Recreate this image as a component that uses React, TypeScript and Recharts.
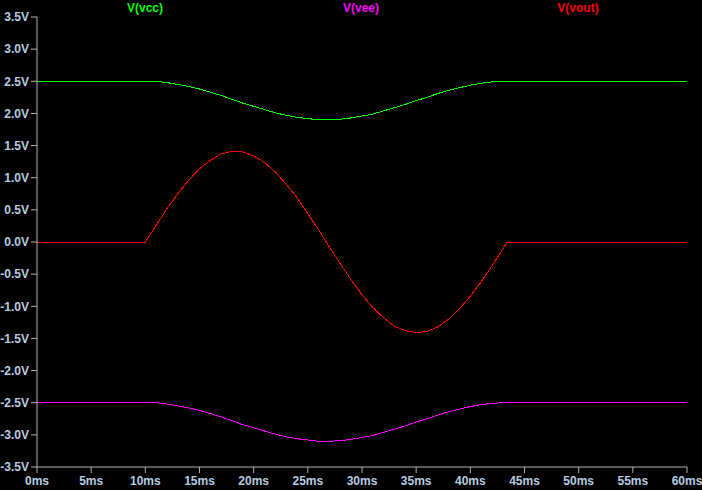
import { LineChart, Line, XAxis, YAxis } from "recharts";

// time in ms
const time = [
  0, 5, 10, 11, 12, 13, 14, 15, 16, 17, 18, 19, 20, 21, 22, 23, 24, 25, 26,
  27, 28, 29, 30, 31, 32, 33, 34, 35, 36, 37, 38, 39, 40, 41, 42, 43, 43.4,
  45, 50, 55, 60,
];
const vcc = [
  2.5, 2.5, 2.5, 2.5, 2.48, 2.45, 2.42, 2.38, 2.33, 2.28, 2.22, 2.16, 2.11,
  2.06, 2.01, 1.97, 1.94, 1.92, 1.9, 1.9, 1.91, 1.93, 1.96, 1.99, 2.04, 2.09,
  2.14, 2.2, 2.25, 2.31, 2.36, 2.4, 2.44, 2.47, 2.49, 2.5, 2.5, 2.5, 2.5, 2.5,
  2.5,
];
const vee = [
  -2.5, -2.5, -2.5, -2.5, -2.52, -2.55, -2.58, -2.62, -2.67, -2.72, -2.78,
  -2.84, -2.89, -2.94, -2.99, -3.03, -3.06, -3.08, -3.1, -3.1, -3.09, -3.07,
  -3.04, -3.01, -2.96, -2.91, -2.86, -2.8, -2.75, -2.69, -2.64, -2.6, -2.56,
  -2.53, -2.51, -2.5, -2.5, -2.5, -2.5, -2.5, -2.5,
];
const vout = [
  0, 0, 0, 0.26, 0.52, 0.75, 0.96, 1.14, 1.27, 1.37, 1.41, 1.4, 1.34, 1.24,
  1.09, 0.9, 0.69, 0.44, 0.19, -0.08, -0.34, -0.59, -0.82, -1.02, -1.18, -1.31,
  -1.38, -1.41, -1.39, -1.32, -1.2, -1.04, -0.84, -0.62, -0.37, -0.11, 0, 0, 0,
  0, 0,
];

const xTicks = [0, 5, 10, 15, 20, 25, 30, 35, 40, 45, 50, 55, 60];
const yTicks = [
  -3.5, -3, -2.5, -2, -1.5, -1, -0.5, 0, 0.5, 1, 1.5, 2, 2.5, 3, 3.5,
];

const seriesNames = ["V(vcc)", "V(vee)", "V(vout)"];
const seriesKeys = ["vcc", "vee", "vout"];
const seriesColors = ["#00ff00", "#ff00ff", "#ff0000"];
const labelCenters = [145, 361, 578];

const data = time.map((t, i) => ({
  t,
  vcc: vcc[i],
  vee: vee[i],
  vout: vout[i],
}));

const frame = "#b4b4b4";
const tickFont = {
  fill: "#b8cce0",
  fontSize: 12,
  fontWeight: "bold" as const,
  fontFamily: "Liberation Sans, Arial, sans-serif",
};

export default function App() {
  return (
    <div
      style={{
        position: "fixed",
        left: 0,
        top: 0,
        width: 702,
        height: 490,
        background: "#000",
      }}
    >
      {seriesNames.map((name, i) => (
        <div
          key={name}
          style={{
            position: "absolute",
            top: 1,
            left: labelCenters[i] - 40,
            width: 80,
            textAlign: "center",
            color: seriesColors[i],
            fontFamily: "Liberation Sans, Arial, sans-serif",
            fontWeight: "bold",
            fontSize: 12,
          }}
        >
          {name}
        </div>
      ))}
      <LineChart
        width={702}
        height={490}
        data={data}
        margin={{ top: 17, right: 15, left: 0, bottom: 0 }}
      >
        <XAxis
          dataKey="t"
          type="number"
          domain={[0, 60]}
          ticks={xTicks}
          tickFormatter={(v) => `${v}ms`}
          stroke={frame}
          tickSize={6}
          tickMargin={3}
          height={23}
          tick={tickFont}
          interval={0}
        />
        <XAxis
          xAxisId="top"
          orientation="top"
          type="number"
          domain={[0, 60]}
          height={0}
          tick={false}
          tickLine={false}
          stroke={frame}
        />
        <YAxis
          type="number"
          domain={[-3.5, 3.5]}
          ticks={yTicks}
          tickFormatter={(v) => `${Number(v).toFixed(1)}V`}
          stroke={frame}
          tickSize={6}
          tickMargin={2}
          width={37}
          tick={tickFont}
          interval={0}
        />
        <YAxis
          yAxisId="right"
          orientation="right"
          type="number"
          domain={[-3.5, 3.5]}
          width={0}
          tick={false}
          tickLine={false}
          stroke={frame}
        />
        {seriesKeys.map((k, i) => (
          <Line
            key={k}
            dataKey={k}
            stroke={seriesColors[i]}
            strokeWidth={1}
            dot={false}
            type="linear"
            shapeRendering="crispEdges"
            isAnimationActive={false}
          />
        ))}
      </LineChart>
    </div>
  );
}
